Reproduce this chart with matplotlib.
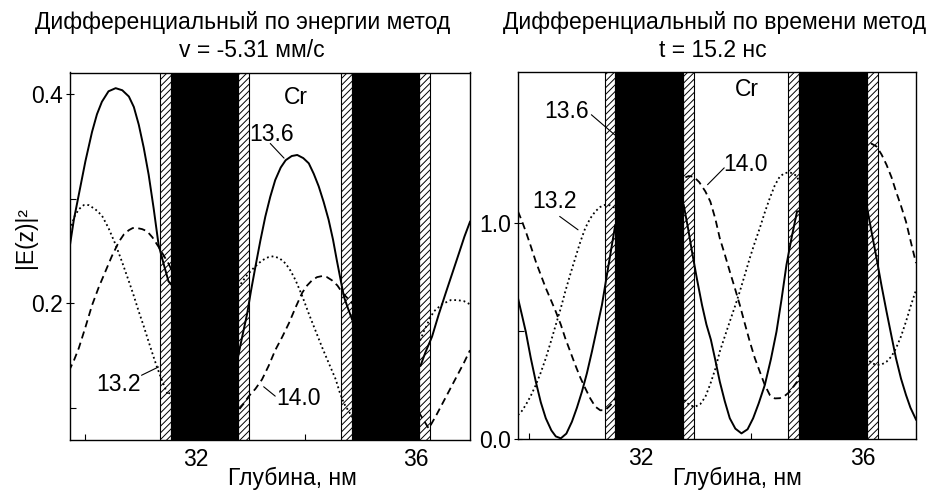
import matplotlib
matplotlib.use('Agg')
import matplotlib.pyplot as plt
from matplotlib.patches import Rectangle
from matplotlib.ticker import MultipleLocator, FixedLocator, FormatStrFormatter

plt.rcParams['font.family'] = ['Liberation Sans', 'DejaVu Sans']
plt.rcParams['hatch.linewidth'] = 0.7

# ---------------- data ----------------
# multilayer structure (depth, nm)
hatch_layers = [(31.36, 31.55), (32.77, 32.97), (34.65, 34.85), (36.07, 36.27)]
black_layers = [(31.55, 32.77), (34.85, 36.07)]

# left panel: energy-differential method, v = -5.31 mm/s
e_x_136 = [29.70, 29.79, 29.88, 30.00, 30.12, 30.21, 30.30, 30.42, 30.55, 30.67, 30.79, 30.88,
           30.97, 31.06, 31.15, 31.24, 31.33, 31.42, 31.51,
           32.76, 32.85, 32.94, 33.01, 33.09, 33.18, 33.27, 33.36, 33.45, 33.55, 33.64, 33.75,
           33.85, 33.96, 34.06, 34.15, 34.24, 34.33, 34.42, 34.50, 34.57, 34.64, 34.70, 34.78, 34.85,
           36.09, 36.18, 36.30, 36.42, 36.55, 36.67, 36.79, 36.89, 36.99]
e_y_136 = [0.249, 0.280, 0.304, 0.336, 0.364, 0.381, 0.393, 0.403, 0.406, 0.404, 0.398, 0.388,
           0.371, 0.349, 0.323, 0.291, 0.256, 0.238, 0.221,
           0.145, 0.168, 0.190, 0.212, 0.235, 0.260, 0.283, 0.302, 0.318, 0.330, 0.337, 0.341,
           0.342, 0.339, 0.334, 0.324, 0.312, 0.297, 0.280, 0.261, 0.241, 0.222, 0.206, 0.194, 0.184,
           0.140, 0.153, 0.168, 0.189, 0.210, 0.229, 0.248, 0.264, 0.278]

e_x_132 = [29.72, 29.80, 29.88, 29.97, 30.06, 30.18, 30.30, 30.42, 30.55, 30.67, 30.79, 30.88,
           30.97, 31.06, 31.15, 31.23, 31.30, 31.40, 31.50,
           32.79, 32.87, 32.94, 33.08, 33.21, 33.32, 33.42, 33.53, 33.64, 33.73, 33.82, 33.94,
           34.06, 34.18, 34.30, 34.42, 34.55, 34.62, 34.70, 34.78, 34.85,
           36.09, 36.15, 36.24, 36.33, 36.48, 36.64, 36.76, 36.88, 36.99]
e_y_132 = [0.270, 0.283, 0.290, 0.294, 0.294, 0.290, 0.284, 0.272, 0.256, 0.239, 0.221, 0.207,
           0.192, 0.178, 0.163, 0.150, 0.139, 0.125, 0.112,
           0.216, 0.222, 0.227, 0.235, 0.241, 0.244, 0.245, 0.243, 0.238, 0.231, 0.222, 0.207,
           0.190, 0.174, 0.158, 0.143, 0.127, 0.115, 0.104, 0.097, 0.091,
           0.165, 0.173, 0.183, 0.192, 0.199, 0.203, 0.203, 0.202, 0.199]

e_x_140 = [29.70, 29.79, 29.88, 30.00, 30.12, 30.24, 30.36, 30.48, 30.61, 30.70, 30.79, 30.86,
           30.94, 31.03, 31.12, 31.22, 31.33, 31.42, 31.51,
           32.79, 32.88, 32.97, 33.09, 33.21, 33.33, 33.45, 33.58, 33.70, 33.82, 33.94, 34.03,
           34.12, 34.21, 34.30, 34.39, 34.48, 34.58, 34.67, 34.76, 34.85,
           36.24, 36.38, 36.51, 36.64, 36.76, 36.88, 36.99]
e_y_140 = [0.135, 0.145, 0.157, 0.177, 0.198, 0.215, 0.230, 0.245, 0.259, 0.266, 0.270, 0.272,
           0.272, 0.271, 0.269, 0.263, 0.254, 0.246, 0.238,
           0.098, 0.104, 0.111, 0.118, 0.127, 0.140, 0.155, 0.168, 0.181, 0.196, 0.210, 0.217,
           0.222, 0.225, 0.226, 0.225, 0.222, 0.217, 0.210, 0.205, 0.200,
           0.080, 0.093, 0.106, 0.119, 0.131, 0.143, 0.155]

# right panel: time-differential method, t = 15.2 ns
t_x_136 = [29.80, 29.87, 29.94, 30.03, 30.12, 30.21, 30.30, 30.40, 30.48, 30.57, 30.67, 30.77,
           30.86, 30.95, 31.04, 31.13, 31.22, 31.31, 31.43, 31.55,
           32.78, 32.86, 32.93, 33.02, 33.11, 33.19, 33.27, 33.35, 33.43, 33.52, 33.61, 33.71,
           33.82, 33.93, 34.03, 34.13, 34.24, 34.35, 34.45, 34.54, 34.63, 34.72, 34.82,
           36.07, 36.16, 36.25, 36.34, 36.43, 36.52, 36.60, 36.69, 36.78, 36.86, 36.96]
t_y_136 = [0.652, 0.575, 0.497, 0.375, 0.266, 0.170, 0.096, 0.040, 0.012, 0.003, 0.025, 0.080,
           0.145, 0.219, 0.305, 0.405, 0.512, 0.621, 0.807, 0.992,
           1.085, 0.975, 0.868, 0.740, 0.621, 0.530, 0.460, 0.365, 0.266, 0.175, 0.096, 0.048,
           0.026, 0.045, 0.096, 0.165, 0.250, 0.370, 0.497, 0.645, 0.807, 0.930, 1.054,
           1.085, 0.960, 0.838, 0.710, 0.590, 0.475, 0.374, 0.280, 0.204, 0.145, 0.090]

t_x_132 = [29.80, 29.87, 29.94, 30.03, 30.12, 30.21, 30.30, 30.39, 30.48, 30.57, 30.65, 30.74,
           30.83, 30.92, 31.01, 31.10, 31.19, 31.28, 31.37, 31.46, 31.55,
           32.81, 32.90, 32.99, 33.08, 33.17, 33.26, 33.35, 33.43, 33.52, 33.61, 33.70, 33.79,
           33.88, 33.97, 34.06, 34.15, 34.24, 34.33, 34.42, 34.51, 34.60, 34.69, 34.76, 34.82,
           36.07, 36.16, 36.25, 36.34, 36.43, 36.52, 36.60, 36.69, 36.78, 36.87, 36.96]
t_y_132 = [0.111, 0.130, 0.158, 0.200, 0.250, 0.308, 0.374, 0.450, 0.529, 0.606, 0.683, 0.762,
           0.838, 0.912, 0.977, 1.022, 1.054, 1.075, 1.085, 1.082, 1.070,
           0.173, 0.155, 0.150, 0.162, 0.195, 0.255, 0.325, 0.405, 0.475, 0.544, 0.612, 0.683,
           0.760, 0.838, 0.910, 0.977, 1.050, 1.116, 1.175, 1.216, 1.232, 1.235, 1.228, 1.216,
           0.374, 0.352, 0.343, 0.345, 0.358, 0.383, 0.420, 0.475, 0.544, 0.620, 0.690]

t_x_140 = [29.80, 29.87, 29.94, 30.03, 30.12, 30.21, 30.30, 30.39, 30.48, 30.57, 30.65, 30.74,
           30.83, 30.92, 31.01, 31.10, 31.19, 31.28, 31.37, 31.46, 31.55,
           32.78, 32.87, 32.96, 33.06, 33.17, 33.26, 33.35, 33.43, 33.52, 33.61, 33.70, 33.79,
           33.88, 33.97, 34.06, 34.15, 34.24, 34.33, 34.42, 34.51, 34.60, 34.69, 34.82,
           36.07, 36.16, 36.25, 36.34, 36.43, 36.52, 36.60, 36.69, 36.78, 36.87, 36.96]
t_y_140 = [1.054, 1.010, 0.961, 0.893, 0.822, 0.760, 0.699, 0.645, 0.590, 0.530, 0.467, 0.405,
           0.343, 0.285, 0.235, 0.188, 0.150, 0.133, 0.134, 0.155, 0.189,
           1.209, 1.218, 1.215, 1.190, 1.147, 1.100, 1.020, 0.930, 0.855, 0.776, 0.700, 0.621,
           0.535, 0.451, 0.375, 0.312, 0.250, 0.204, 0.188, 0.189, 0.200, 0.219, 0.266,
           1.363, 1.368, 1.355, 1.318, 1.270, 1.212, 1.147, 1.080, 1.007, 0.910, 0.815]

curve_labels = ['13.6', '13.2', '14.0']
right_minor_yticks = [0.5]

# ---------------- figure ----------------
fig = plt.figure(figsize=(9.37, 4.91), dpi=100)
axL = fig.add_axes([70/937, 1-440/491, 400/937, 367.5/491])
axR = fig.add_axes([518/937, 1-439/491, 398/937, 367/491])

FS = 16.5
styles = [dict(ls='-', lw=1.4, color='black'),
          dict(ls=(0, (1, 1.6)), lw=1.3, color='black'),
          dict(ls=(0, (4, 2.5)), lw=1.3, color='black')]
line_kw = dict(arrowstyle='-', lw=0.8, shrinkA=0, shrinkB=0)


def draw_layers(ax):
    for a, b in hatch_layers:
        ax.add_patch(Rectangle((a, -10), b - a, 20, facecolor='white', edgecolor='black',
                               hatch='/////', lw=0.8, zorder=1))
    for a, b in black_layers:
        ax.add_patch(Rectangle((a, -10), b - a, 20, facecolor='black', edgecolor='black',
                               lw=0.8, zorder=3))


def style_axes(ax, ymajor, yminor_locator):
    ax.xaxis.set_major_locator(MultipleLocator(4))
    ax.xaxis.set_minor_locator(MultipleLocator(2))
    ax.yaxis.set_major_locator(MultipleLocator(ymajor))
    ax.yaxis.set_minor_locator(yminor_locator)
    ax.xaxis.set_major_formatter(FormatStrFormatter('%d'))
    ax.yaxis.set_major_formatter(FormatStrFormatter('%.1f'))
    ax.tick_params(which='major', direction='inout', length=6, width=0.8,
                   labelsize=FS, pad=2)
    ax.tick_params(which='minor', direction='in', length=4, width=0.8)
    ax.tick_params(axis='x', which='major', direction='in', length=4, pad=6)
    for s in ax.spines.values():
        s.set_linewidth(1.0)
        s.set_zorder(5)


# left panel
draw_layers(axL)
for (xs, ys), st in zip([(e_x_136, e_y_136), (e_x_132, e_y_132), (e_x_140, e_y_140)], styles):
    axL.plot(xs, ys, zorder=2, **st)
axL.set_xlim(29.72, 36.99)
axL.set_ylim(0.069, 0.421)
style_axes(axL, 0.2, MultipleLocator(0.1))

axL.text(33.82, 0.397, 'Cr', fontsize=FS, ha='center', va='center', zorder=6)
axL.text(33.39, 0.362, curve_labels[0], fontsize=FS, ha='center', va='center', zorder=6)
axL.annotate('', xy=(33.61, 0.339), xytext=(33.36, 0.353), arrowprops=line_kw, zorder=6)
axL.text(30.61, 0.122, curve_labels[1], fontsize=FS, ha='center', va='center', zorder=6)
axL.annotate('', xy=(31.33, 0.139), xytext=(31.02, 0.131), arrowprops=line_kw, zorder=6)
axL.text(33.88, 0.109, curve_labels[2], fontsize=FS, ha='center', va='center', zorder=6)
axL.annotate('', xy=(33.24, 0.120), xytext=(33.45, 0.111), arrowprops=line_kw, zorder=6)

# right panel
draw_layers(axR)
for (xs, ys), st in zip([(t_x_136, t_y_136), (t_x_132, t_y_132), (t_x_140, t_y_140)], styles):
    axR.plot(xs, ys, zorder=2, **st)
axR.set_xlim(29.80, 36.96)
axR.set_ylim(0.0, 1.70)
style_axes(axR, 1.0, FixedLocator(right_minor_yticks))

axR.text(33.92, 1.618, 'Cr', fontsize=FS, ha='center', va='center', zorder=6)
axR.text(30.67, 1.517, curve_labels[0], fontsize=FS, ha='center', va='center', zorder=6)
axR.annotate('', xy=(31.54, 1.409), xytext=(31.12, 1.502), arrowprops=line_kw, zorder=6)
axR.text(30.45, 1.100, curve_labels[1], fontsize=FS, ha='center', va='center', zorder=6)
axR.annotate('', xy=(30.88, 0.969), xytext=(30.55, 1.031), arrowprops=line_kw, zorder=6)
axR.text(33.89, 1.270, curve_labels[2], fontsize=FS, ha='center', va='center', zorder=6)
axR.annotate('', xy=(33.21, 1.178), xytext=(33.51, 1.256), arrowprops=line_kw, zorder=6)

# titles and axis labels
fig.text(242.5/937, 1-23/491, 'Дифференциальный по энергии метод', fontsize=FS,
         ha='center', va='center')
fig.text(251.7/937, 1-50/491, 'v = -5.31 мм/с', fontsize=FS, ha='center', va='center')
fig.text(715/937, 1-23/491, 'Дифференциальный по времени метод', fontsize=FS,
         ha='center', va='center')
fig.text(713/937, 1-50/491, 't = 15.2 нс', fontsize=FS, ha='center', va='center')
fig.text(292/937, 1-478/491, 'Глубина, нм', fontsize=FS, ha='center', va='center')
fig.text(737/937, 1-478/491, 'Глубина, нм', fontsize=FS, ha='center', va='center')
fig.text(26/937, 1-238/491, '|E(z)|²', fontsize=FS, ha='center', va='center', rotation=90)

fig.savefig('out.png', dpi=100)
